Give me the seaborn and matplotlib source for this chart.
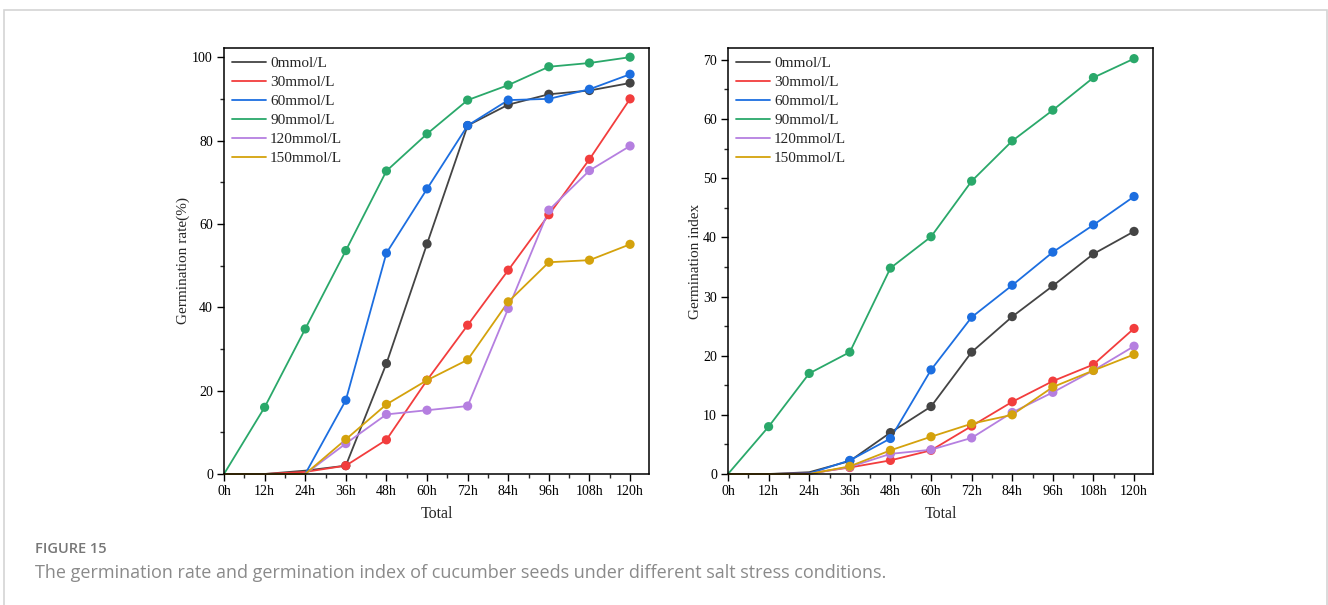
import numpy as np
import pandas as pd
import matplotlib
matplotlib.use("Agg")
import matplotlib.pyplot as plt
from matplotlib.patches import Rectangle
from matplotlib.ticker import MultipleLocator
from matplotlib.lines import Line2D
import seaborn as sns

sns.set_theme(style="ticks")
plt.rcParams['font.family'] = ['Liberation Serif', 'DejaVu Serif']

hours = [0, 12, 24, 36, 48, 60, 72, 84, 96, 108, 120]
hour_labels = ["0h", "12h", "24h", "36h", "48h", "60h", "72h", "84h", "96h", "108h", "120h"]
series_names = ["0mmol/L", "30mmol/L", "60mmol/L", "90mmol/L", "120mmol/L", "150mmol/L"]
colors = ["#444444", "#f23d3d", "#1c6ee0", "#2aa86a", "#b57fe0", "#d4a20c"]

rate_0 = [0, 0, 0.8, 2.0, 26.5, 55.2, 83.6, 88.6, 91.1, 92.0, 93.8]
rate_30 = [0, 0, 0.5, 2.0, 8.2, 22.5, 35.7, 48.9, 62.2, 75.5, 90.0]
rate_60 = [0, 0, 0, 17.7, 53.0, 68.4, 83.6, 89.7, 90.0, 92.3, 95.9]
rate_90 = [0, 16.0, 34.8, 53.6, 72.7, 81.6, 89.7, 93.3, 97.7, 98.6, 100.0]
rate_120 = [0, 0, 0, 7.3, 14.3, 15.3, 16.3, 39.7, 63.3, 72.8, 78.7]
rate_150 = [0, 0, 0, 8.3, 16.7, 22.5, 27.4, 41.3, 50.8, 51.3, 55.1]

index_0 = [0, 0, 0.3, 2.2, 7.0, 11.4, 20.6, 26.6, 31.8, 37.2, 41.0]
index_30 = [0, 0, 0.1, 1.1, 2.3, 4.0, 8.1, 12.2, 15.7, 18.5, 24.6]
index_60 = [0, 0, 0.1, 2.3, 6.0, 17.6, 26.5, 31.9, 37.5, 42.1, 46.9]
index_90 = [0, 8.0, 17.0, 20.6, 34.8, 40.1, 49.5, 56.3, 61.5, 67.0, 70.2]
index_120 = [0, 0, 0, 1.2, 3.4, 4.1, 6.1, 10.4, 13.8, 17.5, 21.6]
index_150 = [0, 0, 0, 1.3, 4.0, 6.3, 8.5, 10.0, 14.7, 17.5, 20.2]

rate_data = [rate_0, rate_30, rate_60, rate_90, rate_120, rate_150]
index_data = [index_0, index_30, index_60, index_90, index_120, index_150]


def make_df(data):
    rows = []
    for name, vals in zip(series_names, data):
        for h, v in zip(hours, vals):
            rows.append({"hour": h, "value": v, "series": name})
    return pd.DataFrame(rows)


fig = plt.figure(figsize=(13.28, 6.05), dpi=100)
fig.patch.set_facecolor("white")

# outer frame
fig.add_artist(Rectangle((4 / 1328, -0.05), 1323 / 1328, 1.05 - 10 / 605,
                         transform=fig.transFigure, fill=False,
                         edgecolor="#d4d4d4", linewidth=1.2))

palette = dict(zip(series_names, colors))

axes_specs = [
    (224, rate_data, "Germination rate(%)", 102.2, 10, [0, 20, 40, 60, 80, 100], 1.5),
    (728, index_data, "Germination index", 72.0, 5, [0, 10, 20, 30, 40, 50, 60, 70], 0.5),
]

for left_px, data, ylabel, ytop, ymin, yticks, ylpad in axes_specs:
    ax = fig.add_axes([left_px / 1328, 131 / 605, 425 / 1328, 426 / 605])
    df = make_df(data)
    sns.lineplot(data=df, x="hour", y="value", hue="series", palette=palette,
                 hue_order=series_names, estimator=None, sort=False,
                 linewidth=1.3, ax=ax, legend=False, clip_on=False)
    mk = df[df["value"] >= 1.0]
    sns.scatterplot(data=mk, x="hour", y="value", hue="series", palette=palette,
                    hue_order=series_names, s=44, edgecolor="none", linewidth=0,
                    ax=ax, legend=False, zorder=3, clip_on=False)
    ax.set_xlim(0, 125.6)
    ax.set_ylim(0, ytop)
    ax.set_xticks(hours)
    ax.set_xticklabels(hour_labels)
    ax.xaxis.set_minor_locator(MultipleLocator(6))
    ax.set_yticks(yticks)
    ax.yaxis.set_minor_locator(MultipleLocator(ymin))
    ax.tick_params(axis="both", which="major", direction="out", length=5, width=1,
                   labelsize=10, colors="black", pad=3)
    ax.tick_params(axis="both", which="minor", direction="out", length=3, width=1)
    for sp in ax.spines.values():
        sp.set_visible(True)
        sp.set_linewidth(1.1)
        sp.set_color("black")
    ax.set_facecolor("white")
    ax.set_xlabel("Total", fontsize=11.5, labelpad=6)
    ax.set_ylabel(ylabel, fontsize=11, labelpad=ylpad)
    handles = [Line2D([0], [0], color=c, linewidth=1.3) for c in colors]
    ax.legend(handles, series_names, loc="upper left", frameon=False,
              fontsize=11, handlelength=2.2, handletextpad=0.27,
              labelspacing=0.35, borderaxespad=0.35, borderpad=0.2)

fig.text(35 / 1328, 1 - 549 / 605, "FIGURE 15", fontsize=10.5, color="#777777",
         family=["Open Sans", "DejaVu Sans"], fontweight="semibold", va="center", ha="left")
fig.text(35 / 1328, 1 - 573 / 605,
         "The germination rate and germination index of cucumber seeds under different salt stress conditions.",
         fontsize=12.95, color="#8a8a8a", family=["Open Sans", "DejaVu Sans"],
         va="center", ha="left")

fig.savefig("out.png", dpi=100, facecolor="white")
